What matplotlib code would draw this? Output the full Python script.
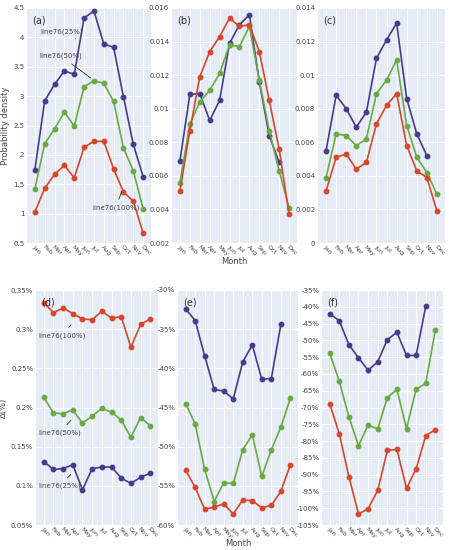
import matplotlib.pyplot as plt
from matplotlib.ticker import FuncFormatter

months = ["Jan", "Feb", "Mar", "Apr", "May", "Jun", "Jul", "Aug", "Sep", "Oct", "Nov", "Dec"]

a_25 = [1.75, 2.92, 3.2, 3.43, 3.37, 4.33, 4.45, 3.89, 3.83, 2.99, 2.18, 1.63]
a_50 = [1.42, 2.19, 2.44, 2.73, 2.49, 3.16, 3.26, 3.22, 2.91, 2.12, 1.73, 1.08]
a_100 = [1.03, 1.43, 1.67, 1.82, 1.61, 2.13, 2.23, 2.23, 1.76, 1.37, 1.21, 0.67]

b_25 = [0.0069, 0.01085, 0.0109, 0.0093, 0.0105, 0.0139, 0.0150, 0.0156, 0.0116, 0.0084, 0.0068]
b_50 = [0.0056, 0.0091, 0.0104, 0.0111, 0.0121, 0.0138, 0.0137, 0.0149, 0.0117, 0.0087, 0.0063, 0.0041]
b_100 = [0.0051, 0.0087, 0.0119, 0.0134, 0.0143, 0.0154, 0.0149, 0.0150, 0.0134, 0.0105, 0.0076, 0.0037]

c_25 = [0.0055, 0.0088, 0.0080, 0.0069, 0.0078, 0.0110, 0.0121, 0.0131, 0.0086, 0.0065, 0.0052]
c_50 = [0.0039, 0.0065, 0.0064, 0.0058, 0.0062, 0.0089, 0.0097, 0.0109, 0.0070, 0.0051, 0.0042, 0.0029]
c_100 = [0.0031, 0.0051, 0.0053, 0.0044, 0.0048, 0.0071, 0.0082, 0.0089, 0.0058, 0.0043, 0.0039, 0.0019]

d_25 = [0.131, 0.121, 0.122, 0.127, 0.095, 0.122, 0.124, 0.124, 0.110, 0.103, 0.111, 0.116]
d_50 = [0.213, 0.193, 0.192, 0.197, 0.180, 0.189, 0.199, 0.194, 0.184, 0.162, 0.187, 0.177]
d_100 = [0.334, 0.321, 0.327, 0.320, 0.313, 0.312, 0.323, 0.314, 0.316, 0.277, 0.306, 0.313]

e_25 = [-32.4, -33.9, -38.4, -42.7, -42.9, -43.9, -39.2, -37.0, -41.4, -41.3, -34.4]
e_50 = [-44.5, -47.1, -52.9, -57.0, -54.6, -54.7, -50.4, -48.5, -53.8, -50.4, -47.5, -43.8]
e_100 = [-53.0, -55.2, -58.0, -57.7, -57.3, -58.6, -56.8, -56.9, -57.8, -57.5, -55.7, -52.3]

f_25 = [-42.0, -44.2, -51.3, -55.2, -58.9, -56.4, -49.8, -47.6, -54.5, -54.5, -39.9]
f_50 = [-53.8, -62.2, -72.8, -81.4, -75.2, -76.4, -67.1, -64.6, -76.3, -64.6, -62.8, -47.0]
f_100 = [-68.9, -77.8, -90.6, -101.7, -100.2, -94.7, -82.8, -82.5, -94.1, -88.3, -78.4, -76.6]

PURPLE, GREEN, RED = "#463c8c", "#6aaa45", "#d6472e"
W, H = 449, 550


def pct(v, _):
    return f"{v:g}%"


def gnum(v, _):
    return f"{v:g}"


def panel(rect, label, s25, s50, s100, ylim, step, fmt, xlabel=None, ylabel=None):
    l, t, r, b = rect
    ax = fig.add_axes([l / W, 1 - b / H, (r - l) / W, (b - t) / H])
    ax.set_facecolor("#E5ECF6")
    for s in ax.spines.values():
        s.set_visible(False)
    for ys, c in ((s25, PURPLE), (s50, GREEN), (s100, RED)):
        ax.plot(range(len(ys)), ys, "-o", color=c, lw=1.2, ms=3.2)
    ax.set_xlim(-0.8, 11.8)
    ax.set_ylim(*ylim)
    ticks = []
    v = ylim[0]
    while v <= ylim[1] + 1e-9:
        ticks.append(round(v, 6))
        v += step
    ax.set_yticks(ticks)
    ax.yaxis.set_major_formatter(FuncFormatter(fmt))
    ax.set_xticks(range(12))
    ax.set_xticklabels(months, rotation=-45, ha="left", rotation_mode="anchor")
    ax.grid(True, color="white", lw=0.8)
    ax.set_axisbelow(True)
    ax.tick_params(length=0, labelsize=5, colors="#444", pad=2)
    ax.tick_params(axis="x", labelsize=4.5, pad=1)
    ax.text(0.04, 0.97, label, transform=ax.transAxes, ha="left", va="top", fontsize=7, color="#333")
    if xlabel:
        ax.set_xlabel(xlabel, fontsize=6, color="#444", labelpad=0)
    if ylabel:
        ax.set_ylabel(ylabel, fontsize=6, color="#444", labelpad=2)
    return ax


def note(ax, text, xy, xytext):
    ax.annotate(text, xy=xy, xytext=xytext, fontsize=5, color="#444", ha="left", va="center",
                arrowprops=dict(arrowstyle="-", color="#333", lw=0.6))


fig = plt.figure(figsize=(W / 100, H / 100), dpi=100)

ax = panel((27, 8, 151, 243), "(a)", a_25, a_50, a_100, (0.5, 4.5), 0.5, gnum, ylabel="Probability density")
note(ax, "line76(25%)", (4.4, 3.95), (0.6, 4.1))
note(ax, "line76(50%)", (5.9, 3.28), (0.5, 3.68))
note(ax, "line76(100%)", (8.9, 1.41), (5.8, 1.1))
panel((172, 8, 297, 243), "(b)", b_25, b_50, b_100, (0.002, 0.016), 0.002, gnum, xlabel="Month")
panel((318, 8, 445, 243), "(c)", c_25, c_50, c_100, (0.0, 0.014), 0.002, gnum)

ax = panel((36, 290, 158, 525), "(d)", d_25, d_50, d_100, (0.05, 0.35), 0.05, pct, ylabel="Δ(%)")
note(ax, "line76(100%)", (3.0, 0.308), (-0.6, 0.292))
note(ax, "line76(50%)", (3.0, 0.186), (-0.6, 0.168))
note(ax, "line76(25%)", (3.0, 0.117), (-0.6, 0.100))
panel((178, 290, 298, 525), "(e)", e_25, e_50, e_100, (-60, -30), 5, pct, xlabel="Month")
panel((322, 290, 443, 525), "(f)", f_25, f_50, f_100, (-105, -35), 5, pct)

fig.savefig("out.png", dpi=100, facecolor="white")
